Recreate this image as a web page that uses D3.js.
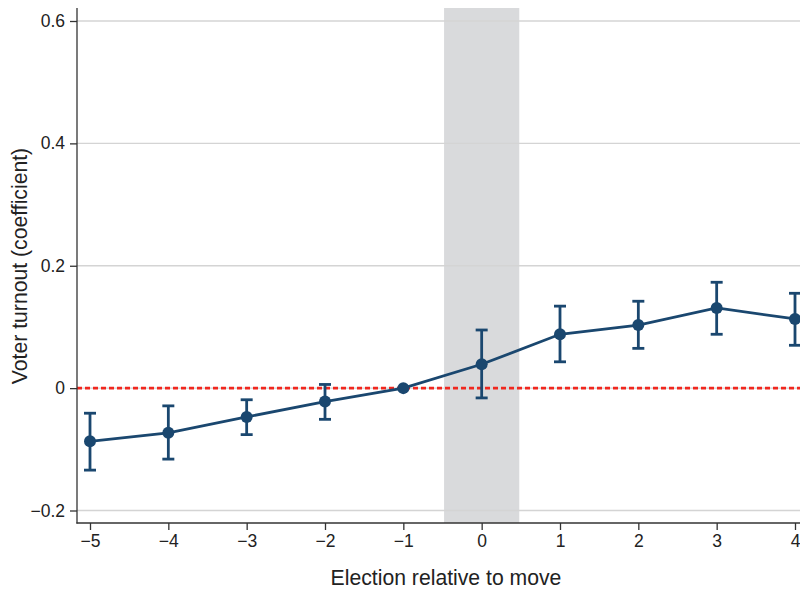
<!DOCTYPE html>
<html>
<head>
<meta charset="utf-8">
<script src="https://cdn.jsdelivr.net/npm/d3@7"></script>
<style>
  body { margin: 0; background: #fff; }
  svg text { font-family: "Liberation Sans", Arial, Helvetica, sans-serif; fill: #222; }
</style>
</head>
<body>
<div class="chart"></div>
<script>
// event time relative to the move
const elections = [-5, -4, -3, -2, -1, 0, 1, 2, 3, 4]
const coef  = [-0.087, -0.073, -0.047, -0.022, 0, 0.039, 0.088, 0.103, 0.131, 0.113]
const ciLow = [-0.134, -0.116, -0.076, -0.051, 0, -0.016, 0.043, 0.065, 0.088, 0.070]
const ciHigh = [-0.041, -0.029, -0.019, 0.006, 0, 0.095, 0.134, 0.142, 0.173, 0.155]
const yTicks = [-0.2, 0, 0.2, 0.4, 0.6]
const shadeBand = [-0.48, 0.48]

const width = 800
const height = 589
const navy = "#1a476f"

const data = elections.map((e, i) => ({ e, b: coef[i], lo: ciLow[i], hi: ciHigh[i] }))

const plotLeft = 77, plotRight = 800, plotTop = 8, plotBottom = 523

const xScale = d3.scaleLinear()
    .domain([-5, 4])
    .range([90, 795])

const yScale = d3.scaleLinear()
    .domain([-0.2, 0.6])
    .range([510.5, 21])

const minus = s => s.replace("-", "\u2212")
const fmtY = v => v === 0 ? "0" : minus(d3.format(".1f")(v))
const fmtX = v => minus(String(v))

const svg = d3.select(".chart")
    .append("svg")
    .attr("width", width)
    .attr("height", height)

// shaded move election
svg.append("rect")
    .attr("x", xScale(shadeBand[0]))
    .attr("y", plotTop)
    .attr("width", xScale(shadeBand[1]) - xScale(shadeBand[0]))
    .attr("height", plotBottom - plotTop)
    .attr("fill", "#d9dadc")

// gridlines
svg.append("g")
    .selectAll("line")
    .data(yTicks)
    .join("line")
    .attr("x1", plotLeft)
    .attr("x2", plotRight)
    .attr("y1", d => yScale(d))
    .attr("y2", d => yScale(d))
    .attr("stroke", "#d4d4d4")
    .attr("stroke-width", 1.3)

// zero reference
svg.append("line")
    .attr("x1", plotLeft)
    .attr("x2", plotRight)
    .attr("y1", yScale(0))
    .attr("y2", yScale(0))
    .attr("stroke", "#f0281f")
    .attr("stroke-width", 2.6)
    .attr("stroke-dasharray", "5,3")

// axes
const yAxis = d3.axisLeft(yScale).tickValues(yTicks).tickFormat(fmtY).tickSize(7).tickPadding(5)
svg.append("g")
    .attr("transform", `translate(${plotLeft},0)`)
    .call(yAxis)
    .call(g => g.select(".domain").remove())
    .call(g => g.selectAll(".tick line").attr("stroke", "#333").attr("stroke-width", 1.3))
    .call(g => g.selectAll(".tick text").attr("font-size", 17.5).attr("fill", "#222"))

const xAxis = d3.axisBottom(xScale).tickValues(elections).tickFormat(fmtX).tickSize(7).tickPadding(5)
svg.append("g")
    .attr("transform", `translate(0,${plotBottom})`)
    .call(xAxis)
    .call(g => g.select(".domain").remove())
    .call(g => g.selectAll(".tick line").attr("stroke", "#333").attr("stroke-width", 1.3))
    .call(g => g.selectAll(".tick text").attr("font-size", 17.5).attr("fill", "#222"))

svg.append("line")
    .attr("x1", plotLeft).attr("x2", plotLeft)
    .attr("y1", plotTop).attr("y2", plotBottom + 0.6)
    .attr("stroke", "#333").attr("stroke-width", 1.3)
svg.append("line")
    .attr("x1", plotLeft - 0.6).attr("x2", plotRight)
    .attr("y1", plotBottom).attr("y2", plotBottom)
    .attr("stroke", "#333").attr("stroke-width", 1.3)

// axis titles
svg.append("text")
    .attr("x", 446)
    .attr("y", 585)
    .attr("text-anchor", "middle")
    .attr("font-size", 21.2)
    .text("Election relative to move")

svg.append("text")
    .attr("transform", `translate(27,266) rotate(-90)`)
    .attr("text-anchor", "middle")
    .attr("font-size", 21.2)
    .text("Voter turnout (coefficient)")

// confidence intervals
const ci = svg.append("g")
    .attr("stroke", navy)
    .attr("stroke-width", 2.8)
const withCI = data.filter(d => d.hi !== d.lo)
ci.selectAll(".stem")
    .data(withCI)
    .join("line")
    .attr("class", "stem")
    .attr("x1", d => xScale(d.e)).attr("x2", d => xScale(d.e))
    .attr("y1", d => yScale(d.lo)).attr("y2", d => yScale(d.hi))
ci.selectAll(".capTop")
    .data(withCI)
    .join("line")
    .attr("class", "capTop")
    .attr("x1", d => xScale(d.e) - 6).attr("x2", d => xScale(d.e) + 6)
    .attr("y1", d => yScale(d.hi)).attr("y2", d => yScale(d.hi))
ci.selectAll(".capBot")
    .data(withCI)
    .join("line")
    .attr("class", "capBot")
    .attr("x1", d => xScale(d.e) - 6).attr("x2", d => xScale(d.e) + 6)
    .attr("y1", d => yScale(d.lo)).attr("y2", d => yScale(d.lo))

// point estimates
const line = d3.line()
    .x(d => xScale(d.e))
    .y(d => yScale(d.b))

svg.append("path")
    .datum(data)
    .attr("d", line)
    .attr("fill", "none")
    .attr("stroke", navy)
    .attr("stroke-width", 2.8)

svg.append("g")
    .selectAll("circle")
    .data(data)
    .join("circle")
    .attr("cx", d => xScale(d.e))
    .attr("cy", d => yScale(d.b))
    .attr("r", 6)
    .attr("fill", navy)
</script>
</body>
</html>
